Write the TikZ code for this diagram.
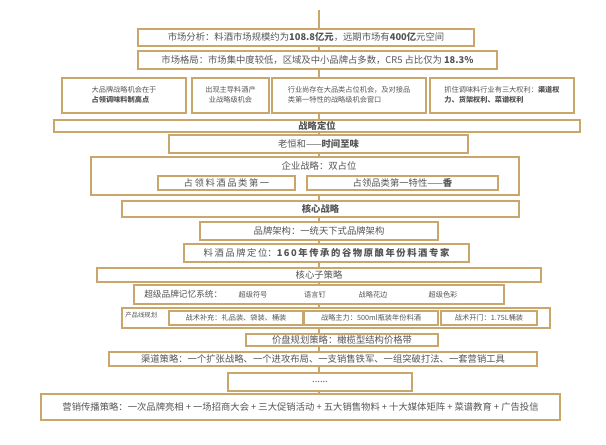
\documentclass[tikz,border=0pt]{standalone}
\usepackage{fontspec}
\setmainfont{Noto Sans CJK SC}
\definecolor{gold}{HTML}{C9A66B}
\definecolor{ink}{HTML}{555555}
\tikzset{
  gbox/.style={draw=gold, line width=1pt, fill=white, inner sep=0pt, text=ink, font=\fontsize{7}{8.5}\selectfont},
  sbox/.style={gbox, line width=0.8pt, font=\fontsize{5.4}{7}\selectfont},
  lnk/.style={draw=gold, line width=0.8pt},
  small/.style={text=ink, font=\fontsize{5.4}{7}\selectfont, inner sep=0pt}
}
% box from (x1,y1) to (x2,y2) in pixels
\newcommand\gbox[7][gbox]{%
  \node[#1, minimum width={(#5-#3)*0.75pt}, minimum height={(#6-#4)*0.75pt}] (#2) at ({(#3+#5)/2},{(#4+#6)/2}) {#7};}
\begin{document}
\begin{tikzpicture}[x=0.75pt, y=-0.75pt]
\useasboundingbox (0,0) rectangle (606,444);
\coordinate (top) at (319,10);
%
\gbox{mkt}{138}{29}{474}{46}{市场分析：料酒市场规模约为\textbf{108.8亿元}，远期市场有\textbf{400亿}元空间}
\gbox{ge}{138}{51}{497}{69}{市场格局：市场集中度较低，区域及中小品牌占多数，CR5 占比仅为 \textbf{18.3\%}}
%
\gbox[sbox]{opa}{62}{78}{186}{113}{\begin{tabular}{@{}l@{}}大品牌战略机会在于\\\textbf{占领调味料制高点}\end{tabular}}
\gbox[sbox]{opb}{192}{78}{269}{113}{\begin{tabular}{@{}c@{}}出现主导料酒产\\业战略级机会\end{tabular}}
\gbox[sbox]{opc}{272}{78}{426}{113}{\begin{tabular}{@{}l@{}}行业尚存在大品类占位机会，及对接品\\类第一特性的战略级机会窗口\end{tabular}}
\gbox[sbox]{opd}{430}{78}{574}{113}{\begin{tabular}{@{}l@{}}抓住调味料行业有三大权利：\textbf{渠道权}\\\textbf{力、货架权利、菜谱权利}\end{tabular}}
%
\gbox{dw}{54}{120}{580}{132}{\textbf{战略定位}}
\gbox{lhh}{169}{135}{468}{153}{老恒和——\textbf{时间至味}}
\gbox{qy}{91}{157}{519}{195}{}
\node[small, font=\fontsize{7}{8.5}\selectfont] (qyt) at (319,166) {企业战略：双占位};
\gbox{qya}{158}{176}{295}{190}{占\,领\,料\,酒\,品\,类\,第\,一}
\gbox{qyb}{307}{176}{498}{190}{占领品类第一特性——\textbf{香}}
\gbox{hx}{122}{201}{519}{217}{\textbf{核心战略}}
\gbox{jg}{200}{222}{438}{240}{品牌架构：一统天下式品牌架构}
\gbox{pp}{184}{244}{469}{262}{料\,酒\,品\,牌\,定\,位：\textbf{1\,6\,0\,年\,传\,承\,的\,谷\,物\,原\,酿\,年\,份\,料\,酒\,专\,家}}
\gbox{hz}{97}{268}{541}{282}{核心子策略}
\gbox{cj}{134}{285}{504}{304}{}
\node[small, font=\fontsize{6.5}{8}\selectfont, anchor=west] (cjt) at (144,294.5) {超级品牌记忆系统：};
\node[small] (cj1) at (253,294.5) {超级符号};
\node[small] (cj2) at (315,294.5) {语言钉};
\node[small] (cj3) at (373,294.5) {战略花边};
\node[small] (cj4) at (443,294.5) {超级色彩};
\gbox{cx}{122}{308}{550}{328}{}
\node[small, font=\fontsize{4.8}{6}\selectfont, anchor=north west] (cxt) at (125,312) {产品线规划};
\gbox[sbox]{cxa}{169}{311}{303}{325}{战术补充：礼品装、袋装、桶装}
\gbox[sbox]{cxb}{304}{311}{438}{325}{战略主力：500ml瓶装年份料酒}
\gbox[sbox]{cxc}{441}{311}{537}{325}{战术开门：1.75L桶装}
\gbox{jp}{246}{334}{438}{346}{价盘规划策略：橄榄型结构价格带}
\gbox{qd}{109}{352}{537}{366}{渠道策略：一个扩张战略、一个进攻布局、一支销售铁军、一组突破打法、一套营销工具}
\gbox{dd}{228}{373}{412}{391}{......}
\gbox{yx}{41}{394}{560}{420}{营销传播策略：一次品牌亮相 + 一场招商大会 + 三大促销活动 + 五大销售物料 + 十大媒体矩阵 + 菜谱教育 + 广告投信}
%
\draw[lnk] (top) -- (mkt.north -| top);
\foreach \a/\b in {mkt/ge, ge/opc, opc/dw, dw/lhh, lhh/qy, qy/hx, hx/jg, jg/pp, pp/hz, hz/cj, cj/cx, cx/jp, jp/qd, qd/dd, dd/yx}
  \draw[lnk] (\a.south -| top) -- (\b.north -| top);
\end{tikzpicture}
\end{document}
